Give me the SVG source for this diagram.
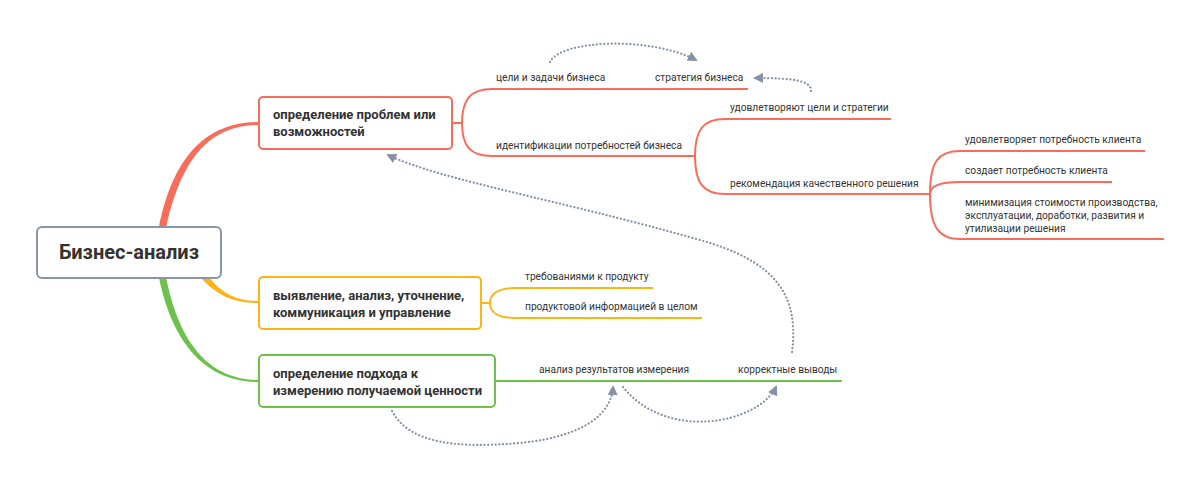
<svg xmlns="http://www.w3.org/2000/svg" width="1200" height="490" viewBox="0 0 1200 490">
<defs>
<marker id="ah" viewBox="0 0 10 10" refX="8" refY="5" markerWidth="10" markerHeight="10" markerUnits="userSpaceOnUse" orient="auto">
<path d="M0,0 L10,5 L0,10 Z" fill="#8591a6"/>
</marker>
<style>
.box{fill:#fff;stroke-width:2}
.bt{font-family:Roboto,"Liberation Sans",sans-serif;font-weight:bold;font-size:13px;fill:#333}
.lt{font-family:Roboto,"Liberation Sans",sans-serif;font-size:10.2px;fill:#333}
.r{stroke:#fa6b5a;fill:none;stroke-width:2}
.y{stroke:#fbb414;fill:none;stroke-width:2}
.g{stroke:#6cc24a;fill:none;stroke-width:2}
.d{stroke:#8591a6;fill:none;stroke-width:2.2;stroke-dasharray:0.1 3.6;stroke-linecap:round}
</style>
</defs>
<rect width="1200" height="490" fill="#fff"/>
<g id="connectors">
<path d="M159,227 C171,168 198,122 259,122 L259,125 C202,125 179,170 166,228 Z" fill="#fa6b5a"/>
<path d="M202,279 C218,296 234,303 259,303 L259,301 C237,301 222,294 209,277 Z" fill="#fbb414"/>
<path d="M159,278 C172,340 203,382 259,382 L259,380 C206,380 178,338 166,277 Z" fill="#6cc24a"/>
<path class="r" d="M452,123 H462 C462,100 470,89 492,89 H748"/>
<path class="r" d="M462,123 C462,146 470,156 492,156 H695"/>
<path class="r" d="M695,156 C695,130 703,119 725,119 H891"/>
<path class="r" d="M695,156 C695,183 703,194 725,194 H930"/>
<path class="r" d="M930,194 C930,162 938,151 960,151 H1145"/>
<path class="r" d="M930,194 C930,186 940,182 960,182 H1112"/>
<path class="r" d="M930,194 C930,226 938,239 960,239 H1164"/>
<path class="y" d="M481,303 H490 C490,294 498,288 515,288 H653"/>
<path class="y" d="M490,303 C490,312 498,318 515,318 H702"/>
<path class="g" d="M495,381 H842"/>
<path class="d" d="M550,62 C560,40 650,36 696,60" marker-end="url(#ah)"/>
<path class="d" d="M811,91 C812,80 790,78 755,78" marker-end="url(#ah)"/>
<path class="d" d="M792,352 C800,290 770,260 700,240 C560,200 440,180 388,155" marker-end="url(#ah)"/>
<path class="d" d="M392,411 C410,445 460,448 520,443 C590,436 612,410 613,387" marker-end="url(#ah)"/>
<path class="d" d="M623,387 C650,420 690,425 720,420 C750,415 770,400 776,387" marker-end="url(#ah)"/>
</g>
<g id="root">
<rect class="box" x="37" y="227" width="184" height="51" rx="5" stroke="#8a96a8"/>
<text x="129" y="259" text-anchor="middle" font-family="Roboto,'Liberation Sans',sans-serif" font-weight="bold" font-size="20" fill="#333">Бизнес-анализ</text>
</g>
<g id="n-problems">
<rect class="box" x="259" y="97" width="193" height="52" rx="4" stroke="#fa6b5a"/>
<text class="bt" x="273" y="119">определение проблем или</text>
<text class="bt" x="273" y="136">возможностей</text>
</g>
<g id="n-identify">
<rect class="box" x="259" y="277" width="222" height="52" rx="4" stroke="#fbb414"/>
<text class="bt" x="273" y="300">выявление, анализ, уточнение,</text>
<text class="bt" x="273" y="317">коммуникация и управление</text>
</g>
<g id="n-measure">
<rect class="box" x="259" y="355" width="236" height="52" rx="4" stroke="#6cc24a"/>
<text class="bt" x="273" y="378">определение подхода к</text>
<text class="bt" x="273" y="395">измерению получаемой ценности</text>
</g>
<g id="labels">
<text class="lt" x="496" y="81">цели и задачи бизнеса</text>
<text class="lt" x="655" y="81">стратегия бизнеса</text>
<text class="lt" x="496" y="149">идентификации потребностей бизнеса</text>
<text class="lt" x="730" y="111">удовлетворяют цели и стратегии</text>
<text class="lt" x="730" y="187">рекомендация качественного решения</text>
<text class="lt" x="965" y="143">удовлетворяет потребность клиента</text>
<text class="lt" x="965" y="174">создает потребность клиента</text>
<text class="lt" x="965" y="206">минимизация стоимости производства,</text>
<text class="lt" x="965" y="219">эксплуатации, доработки, развития и</text>
<text class="lt" x="965" y="232">утилизации решения</text>
<text class="lt" x="525" y="280">требованиями к продукту</text>
<text class="lt" x="525" y="310">продуктовой информацией в целом</text>
<text class="lt" x="539" y="373">анализ результатов измерения</text>
<text class="lt" x="738" y="373">корректные выводы</text>
</g>
</svg>
